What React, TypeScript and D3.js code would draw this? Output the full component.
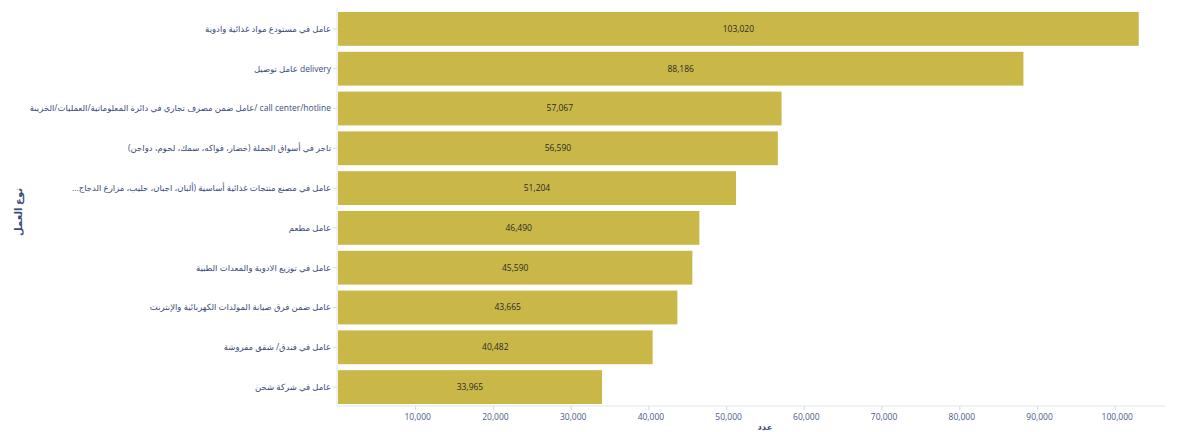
import React from "react";
import * as d3 from "d3";

const categories: string[] = [
  "عامل في مستودع مواد غذائية وادوية",
  "delivery عامل توصيل",
  "call center/hotline /عامل ضمن مصرف تجاري في دائرة المعلوماتية/العمليات/الخزينة",
  "تاجر في أسواق الجملة (خضار، فواكه، سمك، لحوم، دواجن)",
  "عامل في مصنع منتجات غذائية أساسية (ألبان، اجبان، حليب، مزارع الدجاج...",
  "عامل مطعم",
  "عامل في توزيع الادوية والمعدات الطبية",
  "عامل ضمن فرق صيانة المولدات الكهربائية والإنترنت",
  "عامل في فندق/ شقق مفروشة",
  "عامل في شركة شحن",
];
const values: number[] = [103020, 88186, 57067, 56590, 51204, 46490, 45590, 43665, 40482, 33965];
const xTicks: number[] = [10000, 20000, 30000, 40000, 50000, 60000, 70000, 80000, 90000, 100000];
const xTitle = "عدد";
const yTitle = "نوع العمل";

const W = 1179;
const H = 432;
const BAR = "#c9b848";
const LABEL = "#3b4c7d";
const FONT = "'Open Sans', 'DejaVu Sans', sans-serif";

export default function App() {
  const x = d3.scaleLinear().domain([0, 106400]).range([338, 1165]);
  const y = d3
    .scaleBand<string>()
    .domain(categories)
    .range([10, 406])
    .paddingInner(0.15)
    .paddingOuter(0.05);
  const fmt = d3.format(",");
  const axisY = 406;

  return (
    <div style={{ position: "absolute", left: 0, top: 0 }}>
      <svg width={W} height={H} style={{ display: "block", background: "#fff" }}>
        <line x1={337} x2={337} y1={8} y2={axisY} stroke="#e3e5ee" strokeWidth={1} />
        <line x1={337} x2={1165} y1={axisY} y2={axisY} stroke="#e3e5ee" strokeWidth={1} />
        {xTicks.map((t) => (
          <g key={t}>
            <line x1={x(t)} x2={x(t)} y1={axisY} y2={axisY + 4} stroke="#d6d9e4" />
            <text
              x={x(t) + 2}
              y={420}
              textAnchor="middle"
              fontSize={8.5}
              fill="#4a5a86"
              fontFamily={FONT}
            >
              {fmt(t)}
            </text>
          </g>
        ))}
        {categories.map((c, i) => {
          const yy = y(c)!;
          const bh = y.bandwidth();
          const x0 = x(0);
          const x1 = x(values[i]);
          return (
            <g key={c}>
              <rect x={x0} y={yy} width={x1 - x0} height={bh} fill={BAR} />
              <line x1={333} x2={337} y1={yy + bh / 2} y2={yy + bh / 2} stroke="#d6d9e4" />
              <text
                x={331}
                y={yy + bh / 2}
                dy="0.35em"
                textAnchor="start"
                direction="rtl"
                fontSize={8.5}
                fill={LABEL}
                fontFamily={FONT}
              >
                {c}
              </text>
              <text
                x={(x0 + x1) / 2}
                y={yy + bh / 2}
                dy="0.35em"
                textAnchor="middle"
                fontSize={8.5}
                fill="#2a2a2a"
                fontFamily={FONT}
              >
                {fmt(values[i])}
              </text>
            </g>
          );
        })}
        <text
          transform={`translate(22, 212) rotate(-90)`}
          textAnchor="middle"
          fontSize={10}
          fontWeight="bold"
          fill={LABEL}
          fontFamily={FONT}
        >
          {yTitle}
        </text>
        <text
          x={765}
          y={430}
          textAnchor="middle"
          fontSize={8.5}
          fontWeight="bold"
          fill={LABEL}
          fontFamily={FONT}
        >
          {xTitle}
        </text>
      </svg>
    </div>
  );
}
